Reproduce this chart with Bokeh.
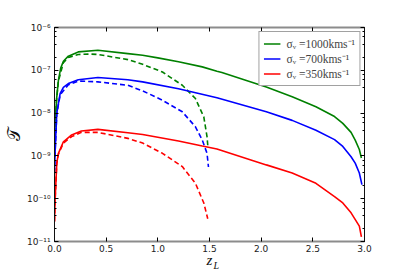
from bokeh.plotting import figure
from bokeh.models import (LinearAxis, LogAxis, FixedTicker, PrintfTickFormatter,
                          CustomJSTickFormatter, Range1d, Title, Legend, LegendItem)
from bokeh.embed import file_html
from bokeh.resources import INLINE

# ---- data (y stored as log10 of T) ----
x_green = [0.0, 0.006, 0.022, 0.038, 0.06, 0.086, 0.134, 0.23, 0.42, 0.71, 0.853, 1.0, 1.2, 1.43,
           1.572, 1.62, 2.05, 2.3, 2.53, 2.71, 2.79, 2.87, 2.91, 2.95, 2.97]
lg_green = [-8.7, -8.2, -7.62, -7.23, -6.95, -6.79, -6.67, -6.57, -6.53, -6.61, -6.65, -6.71, -6.80, -6.92,
            -7.02, -7.05, -7.39, -7.62, -7.85, -8.08, -8.24, -8.45, -8.63, -8.85, -9.05]

x_blue = [0.0, 0.006, 0.022, 0.055, 0.086, 0.134, 0.23, 0.42, 0.71, 0.853, 1.2, 1.572, 2.05, 2.3,
          2.53, 2.71, 2.79, 2.87, 2.91, 2.95, 2.975]
lg_blue = [-9.4, -8.9, -8.0, -7.54, -7.40, -7.31, -7.22, -7.17, -7.22, -7.27, -7.43, -7.64, -7.97, -8.17,
           -8.40, -8.62, -8.78, -9.02, -9.17, -9.40, -9.67]

x_red = [0.0, 0.006, 0.022, 0.038, 0.086, 0.166, 0.26, 0.42, 0.71, 0.853, 1.2, 1.43, 1.572, 2.05, 2.3,
         2.53, 2.71, 2.79, 2.87, 2.95, 2.97]
lg_red = [-10.53, -10.02, -9.17, -8.94, -8.67, -8.51, -8.42, -8.38, -8.46, -8.50, -8.65, -8.77, -8.84, -9.21, -9.40,
          -9.64, -9.95, -10.10, -10.33, -10.64, -10.89]

xd_green = [0.0, 0.006, 0.022, 0.038, 0.086, 0.134, 0.23, 0.35, 0.42, 0.71, 0.853, 1.045, 1.237, 1.364,
            1.445, 1.476, 1.485]
lgd_green = [-8.7, -8.2, -7.63, -7.25, -6.82, -6.70, -6.63, -6.62, -6.63, -6.75, -6.86, -7.04, -7.35, -7.66,
             -8.09, -8.55, -8.8]

xd_blue = [0.0, 0.006, 0.022, 0.055, 0.134, 0.23, 0.42, 0.71, 0.853, 1.045, 1.237, 1.364, 1.43, 1.476, 1.49]
lgd_blue = [-9.4, -8.9, -8.02, -7.57, -7.34, -7.25, -7.27, -7.35, -7.48, -7.70, -7.97, -8.32, -8.63, -8.94, -9.26]

xd_red = [0.0, 0.006, 0.022, 0.038, 0.086, 0.166, 0.26, 0.42, 0.71, 0.853, 1.045, 1.237, 1.364, 1.445, 1.483]
lgd_red = [-10.53, -10.02, -9.18, -8.96, -8.70, -8.55, -8.45, -8.45, -8.59, -8.70, -8.94, -9.25, -9.64, -10.10, -10.47]

labels = ["σᵥ =1000kms⁻¹", "σᵥ =700kms⁻¹", "σᵥ =350kms⁻¹"]
colors = ["#008000", "#0000ff", "#ff0000"]
x_ticks = [0.0, 0.5, 1.0, 1.5, 2.0, 2.5, 3.0]


def to_val(lg):
    return [10.0 ** v for v in lg]


p = figure(width=405, height=270, y_axis_type="log",
           x_range=Range1d(0, 3), y_range=Range1d(1e-11, 1e-6),
           output_backend="svg", toolbar_location=None,
           min_border_left=51, min_border_right=41, min_border_top=27, min_border_bottom=28,
           x_axis_location=None, y_axis_location=None)
p.grid.visible = False
p.outline_line_color = None
p.background_fill_color = "white"
p.border_fill_color = "white"

sup_js = """
const sup = {'-':'\u207b','0':'\u2070','1':'\u00b9','2':'\u00b2','3':'\u00b3','4':'\u2074',
             '5':'\u2075','6':'\u2076','7':'\u2077','8':'\u2078','9':'\u2079'};
const e = Math.round(Math.log10(tick));
return '10' + String(e).split('').map(c => sup[c]).join('');
"""

tick_font = "DejaVu Sans"


def style_axis(ax, show_labels, line_color, line_width):
    ax.major_tick_in = 4
    ax.major_tick_out = 0
    ax.minor_tick_in = 2
    ax.minor_tick_out = 0
    ax.axis_line_color = line_color
    ax.axis_line_width = line_width
    ax.major_tick_line_color = "black"
    ax.minor_tick_line_color = "black"
    ax.major_label_text_font = tick_font
    ax.major_label_text_font_size = "9px"
    ax.major_label_text_color = "#222222"
    ax.major_label_standoff = 3 if show_labels else 0


# bottom x axis, with label "z"
xb = LinearAxis(ticker=FixedTicker(ticks=x_ticks), formatter=PrintfTickFormatter(format="%.1f"))
style_axis(xb, True, "#8c8c8c", 2)
xb.minor_tick_line_color = None
xb.axis_label = "z"
xb.axis_label_text_font = "Liberation Serif"
xb.axis_label_text_font_style = "italic"
xb.axis_label_text_font_size = "15px"
xb.axis_label_text_color = "#111111"
xb.axis_label_standoff = -3
p.add_layout(xb, "below")

# subscript "L" of the x label
p.add_layout(Title(text="L", align="left", offset=159, standoff=-22, vertical_align="top",
                   text_font="Liberation Serif", text_font_style="italic", text_font_size="10px",
                   text_color="#111111"), "below")

# top x axis (ticks only)
xt = LinearAxis(ticker=FixedTicker(ticks=x_ticks), formatter=CustomJSTickFormatter(code="return ''"))
style_axis(xt, False, "#8c8c8c", 2)
xt.minor_tick_line_color = None
p.add_layout(xt, "above")

# left y axis
yl = LogAxis(formatter=CustomJSTickFormatter(code=sup_js))
style_axis(yl, True, "#111111", 1)
yl.major_label_standoff = 4
p.add_layout(yl, "left")

# y axis label (script T)
p.add_layout(Title(text="𝒯", align="center", standoff=2,
                   text_font="DejaVu Serif", text_font_style="normal", text_font_size="17px",
                   text_color="#111111"), "left")

# right y axis (ticks only)
yr = LogAxis(formatter=CustomJSTickFormatter(code="return ''"))
style_axis(yr, False, "#111111", 1)
p.add_layout(yr, "right")

solid_sets = [(x_green, lg_green), (x_blue, lg_blue), (x_red, lg_red)]
dashed_sets = [(xd_green, lgd_green), (xd_blue, lgd_blue), (xd_red, lgd_red)]

items = []
for (xs, lg), (xd, lgd), col, lab in zip(solid_sets, dashed_sets, colors, labels):
    r = p.line(xs, to_val(lg), line_color=col, line_width=1.6)
    p.line(xd, to_val(lgd), line_color=col, line_width=1.6, line_dash="5 3")
    items.append(LegendItem(label=lab, renderers=[r]))

legend = Legend(items=items, location="top_right", margin=4, padding=4, spacing=0,
                glyph_width=17, glyph_height=15, label_height=15, label_standoff=6,
                label_text_font="Liberation Serif", label_text_font_size="11.5px",
                border_line_color="#444444", border_line_width=1.5,
                background_fill_color="white", background_fill_alpha=1.0)
p.add_layout(legend)

open("out.html", "w").write(file_html(p, INLINE))
